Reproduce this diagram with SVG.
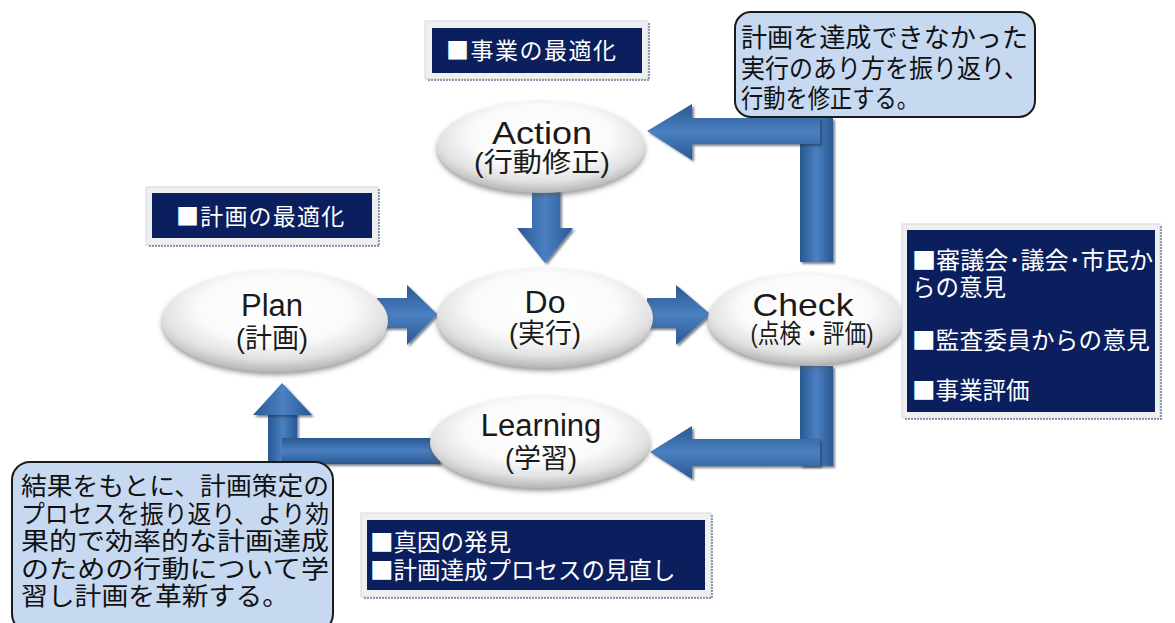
<svg xmlns="http://www.w3.org/2000/svg" width="1175" height="623" viewBox="0 0 1175 623">
<defs>
  <style>
    .lat{font-family:"Liberation Sans","Noto Sans CJK JP",sans-serif;fill:#1a1a1a;text-anchor:middle;}
    .navy{fill:#0b1f5e;}
    .frame{fill:#efefef;stroke:#d4d8e0;stroke-width:1;}
    .frsh{fill:none;stroke:#8c9ab0;stroke-width:2;stroke-dasharray:2 1;}
    .wt{fill:#ffffff;font-family:"Noto Sans CJK JP","Noto Sans CJK SC",sans-serif;}
    .call{fill:#c6d9f1;stroke:#1a1a1a;stroke-width:2;}
    .ct{fill:#111;font-family:"Noto Sans CJK JP","Noto Sans CJK SC",sans-serif;}
    .ell{fill:url(#ellG);filter:url(#sh);}
    .ah{fill:url(#gH);filter:url(#ash);}
    .av{fill:url(#gV);filter:url(#ash);}
  </style>
  <radialGradient id="ellG" cx="50%" cy="38%" r="62%">
    <stop offset="0" stop-color="#ffffff"/>
    <stop offset="0.55" stop-color="#fafafa"/>
    <stop offset="0.8" stop-color="#e2e2e2"/>
    <stop offset="1" stop-color="#b5b5b5"/>
  </radialGradient>
  <linearGradient id="gH" x1="0" y1="0" x2="0" y2="1">
    <stop offset="0" stop-color="#2b5891"/>
    <stop offset="0.5" stop-color="#4a80c2"/>
    <stop offset="1" stop-color="#2b5891"/>
  </linearGradient>
  <linearGradient id="gV" x1="0" y1="0" x2="1" y2="0">
    <stop offset="0" stop-color="#2b5891"/>
    <stop offset="0.5" stop-color="#4a80c2"/>
    <stop offset="1" stop-color="#2b5891"/>
  </linearGradient>
  <filter id="sh" x="-10%" y="-10%" width="120%" height="130%">
    <feDropShadow dx="0" dy="3" stdDeviation="2.5" flood-color="#555" flood-opacity="0.6"/>
  </filter>
  <filter id="ash" x="-10%" y="-10%" width="125%" height="125%">
    <feDropShadow dx="2" dy="2" stdDeviation="1" flood-color="#1d3350" flood-opacity="0.6"/>
  </filter>
</defs>
<rect width="1175" height="623" fill="#ffffff"/>

<g id="connectors">
  <polygon class="av" points="532,190 560,190 560,228 573,228 545,263 517,228 532,228"/>
  <polygon class="ah" points="377,298 407,298 407,285 437,314 407,345 407,328 377,328"/>
  <polygon class="ah" points="647,298 676,298 676,285 710,314 676,345 676,328 647,328"/>
  <rect class="av" x="800" y="118" width="33" height="144"/>
  <polygon class="ah" points="647,131 692,104 692,118 820,118 820,144 692,144 692,160"/>
  <rect class="av" x="800" y="366" width="33" height="100"/>
  <polygon class="ah" points="650,452 692,426 692,439 820,439 820,466 692,466 692,479"/>
  <rect class="av" x="268" y="413" width="29" height="51"/>
  <polygon class="av" points="282,383 312,415 253,415"/>
  <polygon class="ah" points="282,438 440,438 440,464 282,464"/>
</g>

<g id="action">
  <ellipse class="ell" cx="541" cy="147" rx="104" ry="46"/>
  <text class="lat" x="542" y="144" font-size="31" textLength="100" lengthAdjust="spacingAndGlyphs">Action</text>
  <text class="lat" x="542" y="172" font-size="27" textLength="136" lengthAdjust="spacingAndGlyphs">(行動修正)</text>
</g>
<g id="plan">
  <ellipse class="ell" cx="275" cy="321" rx="113" ry="51"/>
  <text class="lat" x="272" y="316" font-size="31">Plan</text>
  <text class="lat" x="272" y="348" font-size="27">(計画)</text>
</g>
<g id="do">
  <ellipse class="ell" cx="545" cy="318" rx="108" ry="50"/>
  <text class="lat" x="545" y="313" font-size="32">Do</text>
  <text class="lat" x="545" y="343" font-size="27">(実行)</text>
</g>
<g id="check">
  <ellipse class="ell" cx="806" cy="319" rx="98" ry="46"/>
  <text class="lat" x="803" y="316" font-size="32" textLength="101" lengthAdjust="spacingAndGlyphs">Check</text>
  <text class="lat" x="812" y="343" font-size="26" textLength="123" lengthAdjust="spacingAndGlyphs">(点検・評価)</text>
</g>
<g id="learning">
  <ellipse class="ell" cx="540" cy="442" rx="110" ry="46"/>
  <text class="lat" x="541" y="436" font-size="31">Learning</text>
  <text class="lat" x="541" y="468" font-size="27">(学習)</text>
</g>

<g id="box-jigyo">
  <rect class="frame" x="425" y="21" width="223" height="58"/>
  <path class="frsh" d="M649,23 V80 H428"/>
  <rect class="navy" x="432" y="28" width="210" height="45"/>
  <text class="wt" x="446" y="59" font-size="23" letter-spacing="1.5">■事業の最適化</text>
</g>
<g id="box-keikaku">
  <rect class="frame" x="146" y="187" width="232" height="58"/>
  <path class="frsh" d="M379,189 V246 H149"/>
  <rect class="navy" x="152" y="193" width="220" height="45"/>
  <text class="wt" x="176" y="225" font-size="23" letter-spacing="1.2">■計画の最適化</text>
</g>
<g id="box-check">
  <rect class="frame" x="902" y="224" width="258" height="194"/>
  <path class="frsh" d="M1161,226 V419 H905"/>
  <rect class="navy" x="907" y="230" width="248" height="182"/>
  <text class="wt" x="912" y="269" font-size="23.5" textLength="241" lengthAdjust="spacingAndGlyphs">■審議会･議会･市民か</text>
  <text class="wt" x="912" y="296" font-size="23.5">らの意見</text>
  <text class="wt" x="912" y="349" font-size="23.5" letter-spacing="0.3">■監査委員からの意見</text>
  <text class="wt" x="912" y="399" font-size="23.5">■事業評価</text>
</g>
<g id="box-learning">
  <rect class="frame" x="361" y="513" width="350" height="84"/>
  <path class="frsh" d="M712,515 V598 H364"/>
  <rect class="navy" x="367" y="520" width="338" height="70"/>
  <text class="wt" x="370" y="551" font-size="23.5">■真因の発見</text>
  <text class="wt" x="370" y="579" font-size="23.5">■計画達成プロセスの見直し</text>
</g>

<g id="callout-action">
  <rect class="call" x="735" y="12" width="300" height="105" rx="16"/>
  <text class="ct" x="741" y="47" font-size="26" textLength="287" lengthAdjust="spacingAndGlyphs">計画を達成できなかった</text>
  <text class="ct" x="741" y="78" font-size="26" textLength="287" lengthAdjust="spacingAndGlyphs">実行のあり方を振り返り、</text>
  <text class="ct" x="741" y="108" font-size="26" textLength="178" lengthAdjust="spacingAndGlyphs">行動を修正する。</text>
</g>
<g id="callout-learning">
  <rect class="call" x="12" y="462" width="321" height="170" rx="18"/>
  <text class="ct" x="21" y="495" font-size="25" textLength="308" lengthAdjust="spacingAndGlyphs">結果をもとに、計画策定の</text>
  <text class="ct" x="21" y="522.5" font-size="25" textLength="308" lengthAdjust="spacingAndGlyphs">プロセスを振り返り、より効</text>
  <text class="ct" x="21" y="550" font-size="25" textLength="308" lengthAdjust="spacingAndGlyphs">果的で効率的な計画達成</text>
  <text class="ct" x="21" y="577.5" font-size="25" textLength="308" lengthAdjust="spacingAndGlyphs">のための行動について学</text>
  <text class="ct" x="21" y="605" font-size="25" textLength="268" lengthAdjust="spacingAndGlyphs">習し計画を革新する。</text>
</g>
</svg>
